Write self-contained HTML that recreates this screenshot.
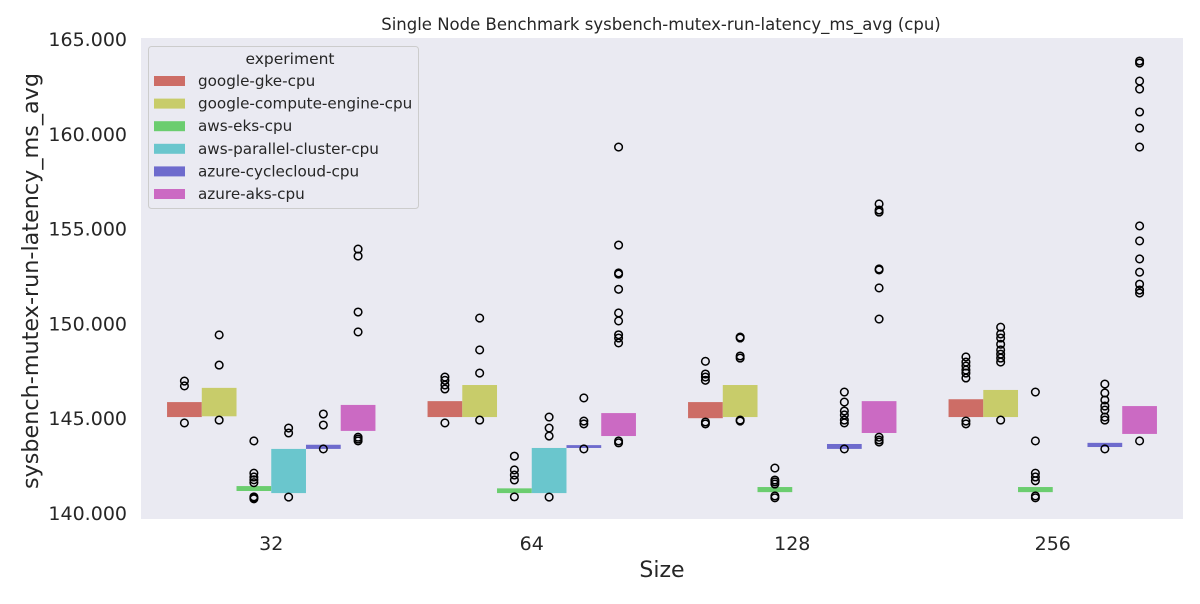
<!DOCTYPE html>
<html><head><meta charset="utf-8"><style>
body{margin:0;background:#fff;font-family:"DejaVu Sans","Liberation Sans",sans-serif;}
</style></head><body>
<svg id="chart" width="1200" height="600" xmlns="http://www.w3.org/2000/svg" font-family="DejaVu Sans, Liberation Sans, sans-serif">
<rect x="0" y="0" width="1200" height="600" fill="#fff"/>
<rect x="141" y="38" width="1042" height="481" fill="#eaeaf2"/>
<text x="661" y="30" text-anchor="middle" font-size="16.5" fill="#262626">Single Node Benchmark sysbench-mutex-run-latency_ms_avg (cpu)</text>
<text transform="translate(38,281) rotate(-90)" text-anchor="middle" font-size="22.3" fill="#262626">sysbench-mutex-run-latency_ms_avg</text>
<text x="662" y="577" text-anchor="middle" font-size="22" fill="#262626">Size</text>
<g id="yticks"></g><g id="xticks"></g><g id="marks"></g><g id="legend"></g>
</svg>
<script>
const categories=["32","64","128","256"];
const series=["google-gke-cpu","google-compute-engine-cpu","aws-eks-cpu","aws-parallel-cluster-cpu","azure-cyclecloud-cpu","azure-aks-cpu"];
const colors=["#cd6d66","#c8cc6a","#6bcd6f","#6ac6cd","#6e6bcd","#cb6ac3"];
const yTicks=[140,145,150,155,160,165];
const q1=[[145.06,145.1,141.16,141.05,143.38,144.33],[145.06,145.06,141.05,141.05,143.43,144.06],[145.0,145.06,141.1,null,143.38,144.22],[145.06,145.06,141.1,null,143.48,144.17]];
const q3=[[145.85,146.6,141.42,143.38,143.6,145.7],[145.9,146.75,141.3,143.43,143.58,145.27],[145.85,146.75,141.37,null,143.64,145.9],[146.0,146.49,141.37,null,143.7,145.64]];
const outliers=[
[[146.96,146.7,144.75],[149.39,147.8,144.9],[143.8,142.1,141.9,141.75,141.6,140.85,140.8,140.75],[144.48,144.22,140.84],[145.22,144.64,143.38],[153.92,153.55,150.6,149.55,144.0,143.9,143.8]],
[[147.17,147.0,146.75,146.54,144.75],[150.28,148.6,147.38,144.9],[143.0,142.27,142.0,141.74,140.85],[145.06,144.48,144.06,140.84],[146.07,144.85,144.7,143.38],[159.3,154.13,152.66,152.6,151.8,150.55,150.13,149.4,149.23,148.97,143.8,143.7]],
[[148.0,147.33,147.17,147.0,144.8,144.7],[149.28,149.23,148.28,148.17,144.9,144.85],[142.37,141.74,141.64,141.53,140.9,140.8],[],[146.38,145.85,145.38,145.17,144.9,144.75,143.38],[156.3,155.98,155.87,152.87,152.82,151.87,150.23,144.0,143.85,143.74]],
[[148.23,147.96,147.75,147.54,147.38,147.12,144.85,144.7],[149.8,149.44,149.23,148.9,148.6,148.38,148.17,147.96,144.9],[146.38,143.8,142.1,141.9,141.7,140.9,140.8],[],[146.8,146.33,145.96,145.64,145.43,145.06,144.9,143.38],[163.84,163.73,162.78,162.36,161.15,160.3,159.3,155.14,154.35,153.4,152.7,152.07,151.76,151.6,143.8]]
];
const NS="http://www.w3.org/2000/svg";
function el(t,a,p){const e=document.createElementNS(NS,t);for(const k in a)e.setAttribute(k,a[k]);p.appendChild(e);return e;}
function y(v){return 513-(v-140)*18.96;}
const x0=141,grpW=260.5;
function xc(i){return x0+grpW*(i+0.5);}
const hw=grpW*0.8/6;
function hx(i,j){return xc(i)-grpW*0.4+hw*j;}
const yt=document.getElementById('yticks');
yTicks.forEach(v=>{const t=el('text',{x:127,y:y(v)+7,'text-anchor':'end','font-size':'19',fill:'#262626'},yt);t.textContent=v.toFixed(3);

});
const xt=document.getElementById('xticks');
categories.forEach((c,i)=>{const t=el('text',{x:xc(i),y:550,'text-anchor':'middle','font-size':'19',fill:'#262626'},xt);t.textContent=c;

});
const mk=document.getElementById('marks');
categories.forEach((c,i)=>{series.forEach((s,j)=>{
 if(q1[i][j]!==null){const r=el('rect',{x:hx(i,j),y:y(q3[i][j]),width:hw,height:Math.max(y(q1[i][j])-y(q3[i][j]),2),fill:colors[j]},mk);
 
 }
 outliers[i][j].forEach(v=>{const o=el('circle',{cx:hx(i,j)+hw/2,cy:y(v),r:3.8,fill:'none',stroke:'#000','stroke-width':1.5},mk);
 
 });
});});
const lg=document.getElementById('legend');
const box=el('rect',{x:148.5,y:46.5,width:270,height:162,rx:3,fill:'#eaeaf2',stroke:'#cccccc','stroke-width':1},lg);


const lt=el('text',{x:290,y:64,'text-anchor':'middle','font-size':'15.5',fill:'#262626'},lg);lt.textContent='experiment';


series.forEach((s,j)=>{const yy=81+j*22.6;
 const sw=el('rect',{x:154,y:yy-5,width:31,height:10,fill:colors[j]},lg);
 
 
 const t=el('text',{x:198,y:yy+5,'font-size':'15.2',fill:'#262626'},lg);t.textContent=s;
 
 });
</script>
</body></html>
